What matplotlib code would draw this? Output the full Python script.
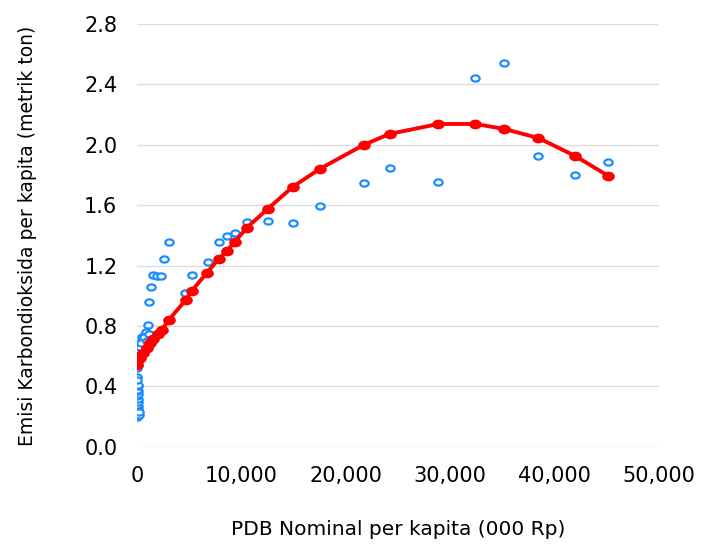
import matplotlib
matplotlib.use("Agg")
import matplotlib.pyplot as plt
from matplotlib.markers import MarkerStyle
from matplotlib.transforms import Affine2D
from matplotlib.ticker import FuncFormatter

# fitted curve (red)
fit_x = [0, 287, 574, 957, 1244, 1531, 2010, 2393, 3062, 4689, 5263, 6699,
         7847, 8613, 9378, 10526, 12536, 14929, 17513, 21723, 24211, 28900,
         32440, 35215, 38470, 42010, 45170]
fit_y = [0.543, 0.589, 0.622, 0.655, 0.688, 0.715, 0.748, 0.775, 0.841, 0.973,
         1.033, 1.152, 1.245, 1.297, 1.357, 1.450, 1.576, 1.721, 1.840, 1.999,
         2.072, 2.138, 2.138, 2.105, 2.045, 1.926, 1.794]

# observed values (blue)
obs_x = [35215, 32440, 38470, 45170, 42010, 24211, 28900, 21723, 17513, 14929,
         12536, 10526, 9378, 8613, 7847, 6795, 5263, 4594, 3062, 2584,
         1531, 1914, 2297, 1340, 1148, 1053, 766, 479,
         # dense cluster close to zero
         100, 200, 300, 400, 500, 600, 700, 800, 900, 150, 250, 350, 450,
         550, 650, 50, 120, 220, 320, 420, 1000, 1200, 60,
         # bottom strip
         60, 80, 100, 60, 80, 100, 60, 80, 100, 60, 80, 100, 60, 80, 100,
         250, 250, 40]
obs_y = [2.542, 2.443, 1.926, 1.887, 1.801, 1.847, 1.754, 1.748, 1.595, 1.483,
         1.496, 1.490, 1.417, 1.397, 1.357, 1.225, 1.139, 1.019, 1.357, 1.245,
         1.140, 1.130, 1.130, 1.060, 0.960, 0.810, 0.740, 0.730,
         0.560, 0.600, 0.620, 0.650, 0.680, 0.700, 0.720, 0.740, 0.760, 0.580,
         0.640, 0.660, 0.700, 0.720, 0.730, 0.520, 0.540, 0.580, 0.600, 0.690,
         0.700, 0.750, 0.460,
         0.200, 0.210, 0.220, 0.240, 0.250, 0.270, 0.280, 0.300, 0.320, 0.340,
         0.350, 0.370, 0.380, 0.400, 0.410, 0.210, 0.230, 0.440]

x_ticks = [0, 10000, 20000, 30000, 40000, 50000]
y_ticks = [0.0, 0.4, 0.8, 1.2, 1.6, 2.0, 2.4, 2.8]

# markers look a bit wider than tall in the original
oval = MarkerStyle("o", transform=Affine2D().scale(1.35, 1.0))

fig = plt.figure(figsize=(7.09, 5.45), dpi=100)
ax = fig.add_axes([0.193, 0.180, 0.736, 0.776])

ax.scatter(obs_x, obs_y, s=20, marker=oval, facecolors="white",
           edgecolors="#1a8cff", linewidths=1.6, zorder=3)
ax.plot(fit_x, fit_y, color="#ff0000", lw=2.8, marker=oval, ms=6, zorder=4)

ax.set_xlim(0, 50000)
ax.set_ylim(0, 2.8)
ax.set_xticks(x_ticks)
ax.set_yticks(y_ticks)
ax.xaxis.set_major_formatter(FuncFormatter(lambda v, p: f"{int(v):,}"))
ax.yaxis.set_major_formatter(FuncFormatter(lambda v, p: f"{v:.1f}"))
ax.tick_params(length=0, labelsize=15, pad=14, colors="#000000")
ax.grid(axis="y", color="#dddddd", lw=1)
ax.set_axisbelow(True)
for s in ax.spines.values():
    s.set_visible(False)

ax.set_xlabel("PDB Nominal per kapita (000 Rp)", fontsize=14.5, labelpad=24)
ax.set_ylabel("Emisi Karbondioksida per kapita (metrik ton)", fontsize=13.5,
              labelpad=34)

fig.savefig("out.png", dpi=100)
